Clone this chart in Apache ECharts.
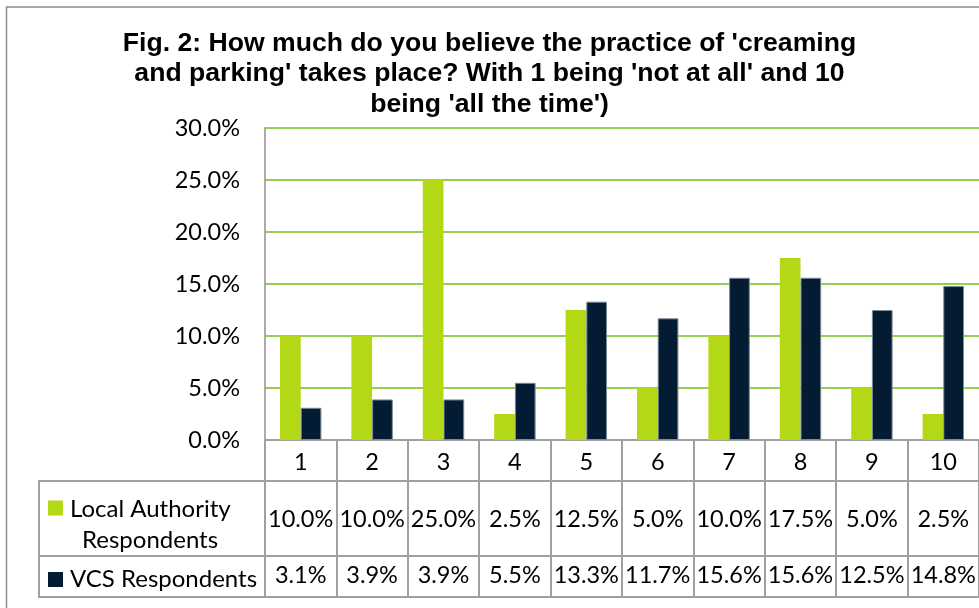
<!DOCTYPE html>
<html>
<head>
<meta charset="utf-8">
<script src="https://cdn.jsdelivr.net/npm/echarts@6/dist/echarts.min.js"></script>
<style>
html,body{margin:0;padding:0;background:#fff;}
#chart{width:979px;height:608px;}
</style>
</head>
<body>
<div id="chart"></div>
<script>
var categories = ['1','2','3','4','5','6','7','8','9','10'];
var localAuthority = [0.100, 0.100, 0.250, 0.025, 0.125, 0.050, 0.100, 0.175, 0.050, 0.025];
var vcs = [0.031, 0.039, 0.039, 0.055, 0.133, 0.117, 0.156, 0.156, 0.125, 0.148];
var seriesNames = ['Local Authority Respondents', 'VCS Respondents'];
var titleText = "Fig. 2: How much do you believe the practice of 'creaming\nand parking' takes place? With 1 being 'not at all' and 10\nbeing 'all the time')";

function pct(v){ return (v*100).toFixed(1) + '%'; }

var FONT = 'Lato';
var FS = 23.5;
var GREEN = '#b3d816';
var NAVY = '#031c34';
var TABLE = '#a0a0a0';

var chart = echarts.init(document.getElementById('chart'));
var option = {
  animation: false,
  backgroundColor: '#fff',
  title: {
    text: titleText,
    left: 'center',
    top: 28,
    padding: 0,
    textStyle: { fontFamily: 'Liberation Sans', fontWeight: 'bold', fontSize: 26.6, lineHeight: 30.5, color: '#000' }
  },
  grid: { left: 265, right: -11, top: 128, bottom: 168, containLabel: false },
  legend: [
    {
      data: [seriesNames[0]], left: 48, top: 493.5, padding: 0, selectedMode: false,
      itemWidth: 15, itemHeight: 48,
      icon: 'path://M0,0H15V15H0Z M0,47.9H0.1V48H0Z',
      itemStyle: { borderWidth: 0 },
      formatter: function(){ return '{a|Local Authority}\n{b|Respondents}'; },
      textStyle: {
        fontFamily: FONT, fontSize: 24, color: '#000', lineHeight: 31,
        rich: {
          a: { fontFamily: FONT, fontSize: 24, color: '#000', lineHeight: 31, padding: [0,0,0,2] },
          b: { fontFamily: FONT, fontSize: 24, color: '#000', lineHeight: 31, padding: [0,0,0,14] }
        }
      }
    },
    {
      data: [seriesNames[1]], left: 48, top: 567.5, padding: 0, selectedMode: false,
      itemWidth: 15, itemHeight: 15, icon: 'rect',
      itemStyle: { borderWidth: 0 },
      textStyle: { fontFamily: FONT, fontSize: 24, color: '#000', padding: [0,0,0,2] }
    }
  ],
  xAxis: [
    {
      type: 'category', data: categories, position: 'bottom',
      axisLine: { show: true, lineStyle: { color: TABLE, width: 2 } },
      axisTick: { show: true, length: 157, lineStyle: { color: TABLE, width: 2 } },
      axisLabel: { interval: 0, margin: 10, fontFamily: FONT, fontSize: FS, color: '#000' },
      splitLine: { show: false }
    },
    {
      type: 'category', data: categories, position: 'bottom', offset: 59,
      axisLine: { show: false }, axisTick: { show: false }, splitLine: { show: false },
      axisLabel: { interval: 0, margin: 8, fontFamily: FONT, fontSize: FS, color: '#000',
        formatter: function(v, i){ return pct(localAuthority[i]); } }
    },
    {
      type: 'category', data: categories, position: 'bottom', offset: 115,
      axisLine: { show: false }, axisTick: { show: false }, splitLine: { show: false },
      axisLabel: { interval: 0, margin: 8, fontFamily: FONT, fontSize: FS, color: '#000',
        formatter: function(v, i){ return pct(vcs[i]); } }
    }
  ],
  yAxis: {
    type: 'value', min: 0, max: 0.3, interval: 0.05,
    axisLine: { show: true, lineStyle: { color: '#909090', width: 1.5 } },
    axisTick: { show: false },
    axisLabel: { margin: 25, fontFamily: FONT, fontSize: FS, color: '#000', formatter: pct },
    splitLine: { show: true, lineStyle: { color: '#92d050', width: 2 } }
  },
  series: [
    { name: seriesNames[0], type: 'bar', xAxisIndex: 0, data: localAuthority,
      barGap: '0%', barCategoryGap: '42%', itemStyle: { color: GREEN } },
    { name: seriesNames[1], type: 'bar', xAxisIndex: 0, data: vcs,
      barGap: '0%', barCategoryGap: '42%', itemStyle: { color: NAVY, borderColor: '#7d8a98', borderWidth: 1 } }
  ],
  graphic: [
    { type: 'rect', shape: { x: 6.5, y: 7, width: 1100, height: 800 }, style: { fill: 'none', stroke: '#8c8c8c', lineWidth: 1.5 }, silent: true },
    { type: 'line', shape: { x1: 39, y1: 481, x2: 1000, y2: 481 }, style: { stroke: TABLE, lineWidth: 2 }, silent: true },
    { type: 'line', shape: { x1: 39, y1: 556, x2: 1000, y2: 556 }, style: { stroke: TABLE, lineWidth: 2 }, silent: true },
    { type: 'line', shape: { x1: 39, y1: 597, x2: 1000, y2: 597 }, style: { stroke: TABLE, lineWidth: 2 }, silent: true },
    { type: 'line', shape: { x1: 39, y1: 480, x2: 39, y2: 598 }, style: { stroke: TABLE, lineWidth: 2 }, silent: true }
  ]
};
chart.setOption(option);
</script>
</body>
</html>
